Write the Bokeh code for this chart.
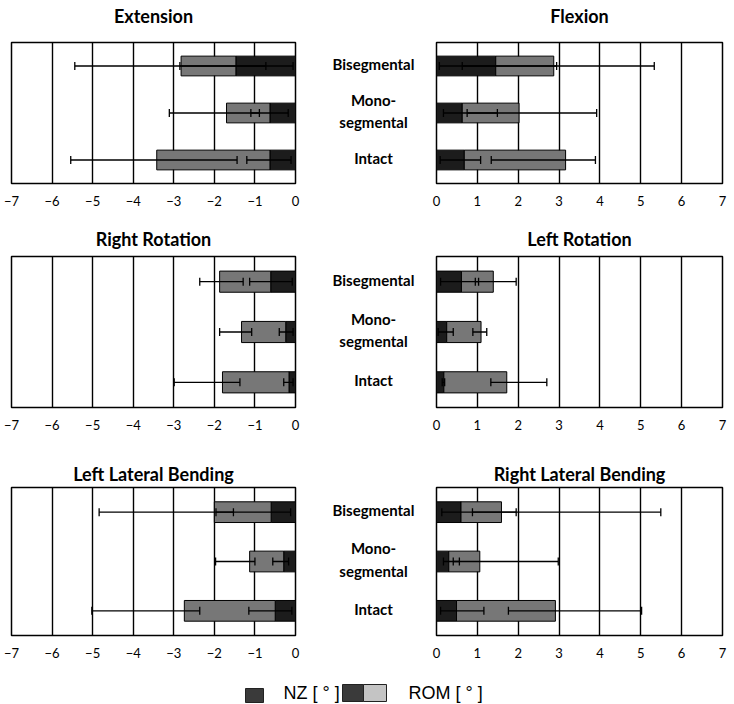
from bokeh.plotting import figure
from bokeh.models import ColumnDataSource, FactorRange, Range1d, FixedTicker, Whisker, TeeHead, Spacer
from bokeh.layouts import column, row
from bokeh.embed import file_html
from bokeh.resources import INLINE
from bokeh.core.properties import value

# ---------------- data ----------------
categories = ["Bisegmental", "Mono-\nsegmental", "Intact"]
left_ticks = [-7, -6, -5, -4, -3, -2, -1, 0]
right_ticks = [0, 1, 2, 3, 4, 5, 6, 7]

# Extension
ext_nz = [-1.47, -0.63, -0.63]
ext_rom = [-2.82, -1.70, -3.42]
ext_nz_lo = [-2.85, -1.10, -1.20]
ext_nz_hi = [-0.06, -0.18, -0.11]
ext_rom_lo = [-5.44, -3.11, -5.54]
ext_rom_hi = [-0.73, -0.89, -1.44]

# Flexion
flex_nz = [1.45, 0.63, 0.68]
flex_rom = [2.87, 2.02, 3.16]
flex_nz_lo = [0.07, 0.17, 0.09]
flex_nz_hi = [2.94, 1.49, 1.08]
flex_rom_lo = [0.63, 0.75, 1.34]
flex_rom_hi = [5.33, 3.92, 3.89]

# Right Rotation
rr_nz = [-0.61, -0.24, -0.16]
rr_rom = [-1.87, -1.33, -1.80]
rr_nz_lo = [-1.13, -0.40, -0.29]
rr_nz_hi = [-0.08, -0.06, -0.06]
rr_rom_lo = [-2.36, -1.87, -2.99]
rr_rom_hi = [-1.29, -1.08, -1.37]

# Left Rotation
lr_nz = [0.61, 0.25, 0.18]
lr_rom = [1.39, 1.09, 1.72]
lr_nz_lo = [0.10, 0.04, 0.14]
lr_nz_hi = [1.03, 0.41, 0.20]
lr_rom_lo = [0.95, 0.89, 1.33]
lr_rom_hi = [1.95, 1.23, 2.70]

# Left Lateral Bending
llb_nz = [-0.60, -0.29, -0.50]
llb_rom = [-2.00, -1.13, -2.74]
llb_nz_lo = [-1.96, -0.56, -1.15]
llb_nz_hi = [-0.12, -0.17, -0.09]
llb_rom_lo = [-4.84, -1.97, -5.02]
llb_rom_hi = [-1.53, -1.00, -2.36]

# Right Lateral Bending
rlb_nz = [0.60, 0.30, 0.49]
rlb_rom = [1.59, 1.06, 2.91]
rlb_nz_lo = [0.13, 0.17, 0.10]
rlb_nz_hi = [1.95, 0.56, 1.16]
rlb_rom_lo = [0.88, 0.41, 1.76]
rlb_rom_hi = [5.49, 2.98, 5.02]

legend_labels = ["NZ [ ° ]", "ROM [ ° ]"]

# ---------------- style ----------------
NZ_COLOR = "#1c1c1c"
ROM_COLOR = "#777777"
FONT = "Lato"

# per row: (title strip height, title centre from strip top, top border, frame height, bottom border)
ROWS = [
    (34, 15, 8, 141, 35),
    (34, 20, 4, 151, 41),
    (37, 25, 2, 148, 34),
]
SIDES = {"left": (11, 23, 284), "right": (8, 12, 286)}
MID_W = 110


def title_strip(text, xr, side, rowi):
    h, yc = ROWS[rowi][0], ROWS[rowi][1]
    bl, br, fw = SIDES[side]
    p = figure(width=bl + fw + br, height=h, x_range=xr, y_range=Range1d(h, 0),
               output_backend="svg", toolbar_location=None,
               min_border_left=bl, min_border_right=br, min_border_top=0, min_border_bottom=0,
               x_axis_location=None, y_axis_location=None)
    p.outline_line_color = None
    p.grid.visible = False
    p.text(x=[(xr.start + xr.end) / 2], y=[yc], text=[text], text_align="center",
           text_baseline="middle", text_font=value(FONT), text_font_style="bold",
           text_font_size="18px", text_color="black")
    return p


def panel(nz, rom, nz_lo, nz_hi, rom_lo, rom_hi, xr, side, rowi):
    _, _, top, fh, bot = ROWS[rowi]
    bl, br, fw = SIDES[side]
    ticks = left_ticks if side == "left" else right_ticks
    p = figure(width=bl + fw + br, height=top + fh + bot, x_range=xr,
               y_range=FactorRange(*categories[::-1]),
               output_backend="svg", toolbar_location=None,
               min_border_left=bl, min_border_right=br,
               min_border_top=top, min_border_bottom=bot,
               y_axis_location=None)
    p.outline_line_color = "black"
    p.outline_line_width = 1.5
    p.ygrid.visible = False
    p.xgrid.ticker = FixedTicker(ticks=ticks)
    p.xgrid.grid_line_color = "black"
    p.xgrid.grid_line_width = 1.4
    p.xgrid.grid_line_alpha = 1.0
    ax = p.xaxis[0]
    ax.ticker = FixedTicker(ticks=ticks)
    ax.axis_line_color = None
    ax.major_tick_line_color = None
    ax.minor_tick_line_color = None
    ax.major_label_standoff = 6
    ax.major_label_text_font = FONT
    ax.major_label_text_font_size = "13px"
    ax.major_label_text_color = "black"

    src = ColumnDataSource(dict(cat=categories, nz=nz, rom=rom, zero=[0] * len(nz),
                                nz_lo=nz_lo, nz_hi=nz_hi, rom_lo=rom_lo, rom_hi=rom_hi))
    p.hbar(y="cat", left="zero", right="nz", height=0.42, fill_color=NZ_COLOR,
           line_color="black", line_width=1, source=src)
    p.hbar(y="cat", left="nz", right="rom", height=0.42, fill_color=ROM_COLOR,
           line_color="black", line_width=1, source=src)
    for lo, hi in (("nz_lo", "nz_hi"), ("rom_lo", "rom_hi")):
        w = Whisker(source=src, base="cat", lower=lo, upper=hi, dimension="width",
                    line_color="black", line_width=1.3, level="overlay",
                    upper_head=TeeHead(size=8, line_width=1.3, line_color="black"),
                    lower_head=TeeHead(size=8, line_width=1.3, line_color="black"))
        p.add_layout(w)
    return p


def labels_fig(rowi):
    _, _, top, fh, bot = ROWS[rowi]
    p = figure(width=MID_W, height=top + fh + bot, x_range=Range1d(0, 1),
               y_range=FactorRange(*categories[::-1]),
               output_backend="svg", toolbar_location=None,
               min_border_left=0, min_border_right=0,
               min_border_top=top, min_border_bottom=bot,
               x_axis_location=None, y_axis_location=None)
    p.outline_line_color = None
    p.grid.visible = False
    src = ColumnDataSource(dict(cat=categories, x=[0.5] * len(categories)))
    p.text(x="x", y="cat", text="cat", source=src, text_align="center",
           text_baseline="middle", text_font=value(FONT), text_font_style="bold",
           text_font_size="15px", text_color="black", text_line_height=1.25,
           y_offset=-2)
    return p


def make_row(rowi, left_title, left_data, right_title, right_data):
    xl = Range1d(-7, 0)
    xr = Range1d(0, 7)
    strip = row(title_strip(left_title, xl, "left", rowi),
                Spacer(width=MID_W, height=ROWS[rowi][0]),
                title_strip(right_title, xr, "right", rowi))
    body = row(panel(*left_data, xl, "left", rowi),
               labels_fig(rowi),
               panel(*right_data, xr, "right", rowi))
    return column(strip, body)


r1 = make_row(0, "Extension", (ext_nz, ext_rom, ext_nz_lo, ext_nz_hi, ext_rom_lo, ext_rom_hi),
              "Flexion", (flex_nz, flex_rom, flex_nz_lo, flex_nz_hi, flex_rom_lo, flex_rom_hi))
r2 = make_row(1, "Right Rotation", (rr_nz, rr_rom, rr_nz_lo, rr_nz_hi, rr_rom_lo, rr_rom_hi),
              "Left Rotation", (lr_nz, lr_rom, lr_nz_lo, lr_nz_hi, lr_rom_lo, lr_rom_hi))
r3 = make_row(2, "Left Lateral Bending", (llb_nz, llb_rom, llb_nz_lo, llb_nz_hi, llb_rom_lo, llb_rom_hi),
              "Right Lateral Bending", (rlb_nz, rlb_rom, rlb_nz_lo, rlb_nz_hi, rlb_rom_lo, rlb_rom_hi))

# legend strip
lg = figure(width=734, height=34, x_range=Range1d(0, 734), y_range=Range1d(34, 0),
            output_backend="svg", toolbar_location=None,
            min_border_left=0, min_border_right=0, min_border_top=0, min_border_bottom=0,
            x_axis_location=None, y_axis_location=None)
lg.outline_line_color = None
lg.grid.visible = False
lg.quad(left=[245, 342, 363], right=[263, 363, 386], top=[19, 15, 15], bottom=[33, 32, 32],
        fill_color=["#3a3a3a", "#3a3a3a", "#c4c4c4"], line_color="#222222", line_width=1)
lg.text(x=[283, 408], y=[23, 23], text=legend_labels, text_baseline="middle",
        text_font=value("Liberation Sans"), text_font_size="18px", text_color="black")

layout = column(r1, r2, r3, lg)
open("out.html", "w").write(file_html(layout, INLINE))
